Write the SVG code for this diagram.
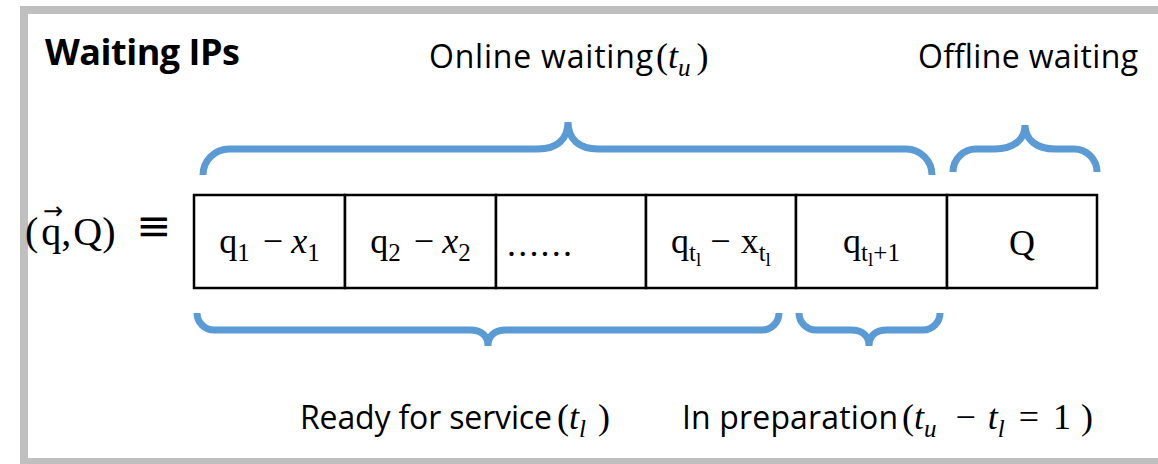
<svg xmlns="http://www.w3.org/2000/svg" width="1158" height="464" viewBox="0 0 1158 464">
  <style>
    .frame { fill: #fff; stroke: #BFBFBF; stroke-width: 8; }
    .lbl { font-family: "Open Sans", Lato, "Liberation Sans", sans-serif; font-size: 32px; fill: #000; }
    .title { font-family: "Open Sans", Lato, "Liberation Sans", sans-serif; font-size: 36px; font-weight: bold; fill: #000; }
    .m { font-family: "Liberation Serif", "DejaVu Serif", serif; font-size: 36px; fill: #000; }
    .sym { font-family: "DejaVu Sans", sans-serif; fill: #000; }
    .big { font-size: 40px; }
    .it { font-style: italic; }
    .sub { font-size: 25px; }
    .sub2 { font-size: 19px; }
    .cell { fill: #fff; stroke: #000; stroke-width: 2.5; }
    .brace { fill: none; stroke: #5B9BD5; stroke-width: 7; }
  </style>

  <!-- outer panel -->
  <rect class="frame" x="24" y="10" width="1160" height="452"/>

  <g id="title">
    <text class="title" x="45" y="65" textLength="195">Waiting IPs</text>
  </g>

  <!-- header labels -->
  <g id="label-online">
    <text class="lbl" x="429" y="68" textLength="224">Online waiting</text>
    <text class="m" x="656" y="68">(<tspan class="it">t</tspan><tspan class="it sub" dy="8">u</tspan><tspan dy="-8" dx="6">)</tspan></text>
  </g>
  <g id="label-offline">
    <text class="lbl" x="918" y="68" textLength="220">Offline waiting</text>
  </g>

  <!-- state vector -->
  <g id="state">
    <text class="m big" x="25" y="245">(<tspan dx="3">q</tspan>,<tspan dx="2">Q)</tspan></text>
    <text class="sym" x="53" y="219" font-size="24" text-anchor="middle">→</text>
    <text class="sym" x="136" y="240" font-size="42">≡</text>
  </g>

  <!-- queue cells -->
  <g id="cell-1">
    <rect class="cell" x="194" y="195" width="151" height="93"/>
    <text class="m" x="269.5" y="253" text-anchor="middle">q<tspan class="sub" dy="8">1</tspan><tspan dy="-8" dx="13">−</tspan><tspan class="it" dx="8">x</tspan><tspan class="sub" dy="8">1</tspan></text>
  </g>
  <g id="cell-2">
    <rect class="cell" x="345" y="195" width="151" height="93"/>
    <text class="m" x="420.5" y="253" text-anchor="middle">q<tspan class="sub" dy="8">2</tspan><tspan dy="-8" dx="13">−</tspan><tspan class="it" dx="8">x</tspan><tspan class="sub" dy="8">2</tspan></text>
  </g>
  <g id="cell-3">
    <rect class="cell" x="496" y="195" width="150" height="93"/>
    <text class="m" x="507" y="256" letter-spacing="2.2">......</text>
  </g>
  <g id="cell-4">
    <rect class="cell" x="646" y="195" width="150" height="93"/>
    <text class="m" x="721" y="253" text-anchor="middle">q<tspan class="sub" dy="8">t</tspan><tspan class="sub2" dy="5">l</tspan><tspan dy="-13" dx="9">−</tspan><tspan dx="10">x</tspan><tspan class="sub" dy="8">t</tspan><tspan class="sub2" dy="5">l</tspan></text>
  </g>
  <g id="cell-5">
    <rect class="cell" x="796" y="195" width="151" height="93"/>
    <text class="m" x="871.5" y="253" text-anchor="middle">q<tspan class="sub" dy="8">t</tspan><tspan class="sub2" dy="5">l</tspan><tspan class="sub" dy="-5">+1</tspan></text>
  </g>
  <g id="cell-6">
    <rect class="cell" x="947" y="195" width="150" height="93"/>
    <text class="m" x="1022" y="255" text-anchor="middle">Q</text>
  </g>

  <!-- braces -->
  <g id="braces">
    <path class="brace" d="M 203 175 A 26 26 0 0 1 229 149 L 538 149 C 556 149 568 140 568 122 C 568 140 580 149 598 149 L 906 149 A 26 26 0 0 1 932 175"/>
    <path class="brace" d="M 953 172 A 23 23 0 0 1 976 149 L 995 149 C 1013 149 1025 140 1025 125 C 1025 140 1037 149 1055 149 L 1074 149 A 23 23 0 0 1 1097 172"/>
    <path class="brace" d="M 197 313 A 17 17 0 0 0 214 330 L 470 330 C 482 330 488 336 488 346 C 488 336 494 330 506 330 L 762 330 A 17 17 0 0 0 779 313"/>
    <path class="brace" d="M 799 313 A 17 17 0 0 0 816 330 L 851 330 C 863 330 869 336 869 346 C 869 336 875 330 887 330 L 923 330 A 17 17 0 0 0 940 313"/>
  </g>

  <!-- footer labels -->
  <g id="label-ready">
    <text class="lbl" x="300" y="429" textLength="252">Ready for service</text>
    <text class="m" x="557" y="429">(<tspan class="it">t</tspan><tspan class="it sub" dy="8">l</tspan><tspan dy="-8" dx="12">)</tspan></text>
  </g>
  <g id="label-prep">
    <text class="lbl" x="682" y="429" textLength="216">In preparation</text>
    <text class="m" x="902" y="429">(<tspan class="it">t</tspan><tspan class="it sub" dy="8">u</tspan><tspan dy="-8" dx="19">−</tspan><tspan class="it" dx="12">t</tspan><tspan class="it sub" dy="8">l</tspan><tspan dy="-8" dx="14">=</tspan><tspan dx="14">1</tspan><tspan dx="10">)</tspan></text>
  </g>
</svg>
